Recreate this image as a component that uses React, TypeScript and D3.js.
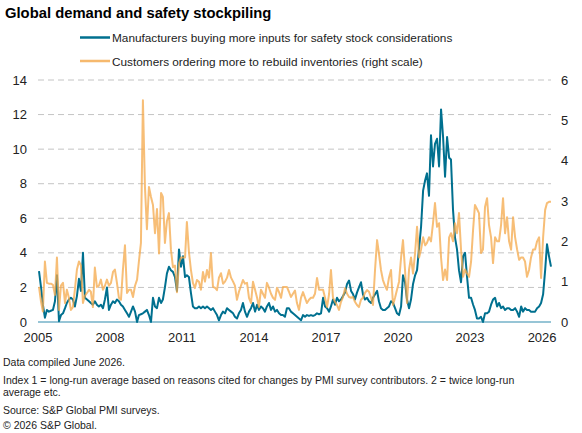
import * as React from 'react'
import { useEffect, useRef } from 'react'
import * as d3 from 'd3'

// monthly index values, Jan 2005 - May 2026
const safetyStock: number[] = [
  // 2005
  2.95, 2.0, 1.0, 0.25, 0.7, 0.6, 0.65, 0.7, 1.2, 2.7, 0.05, 0.4,
  // 2006
  0.5, 0.8, 1.1, 1.3, 1.4, 1.3, 0.9, 1.5, 2.5, 1.8, 4.0, 1.4,
  // 2007
  1.3, 1.2, 1.1, 1.0, 1.2, 1.0, 0.9, 1.0, 0.8, 1.3, 2.0, 0.7,
  // 2008
  1.0, 1.2, 1.1, 1.3, 1.2, 1.0, 0.9, 0.7, 0.5, 0.3, 0.6, 0.9,
  // 2009
  0.6, 0.0, 0.4, 0.45, 0.5, 0.6, 0.7, 0.4, 0.0, 1.4, 0.9, 0.8,
  // 2010
  1.4, 1.1, 1.3, 2.0, 2.8, 3.2, 3.0, 2.9, 2.6, 1.8, 4.2, 3.2,
  // 2011
  3.8, 2.6, 2.7, 2.6, 1.7, 0.9, 0.8, 0.8, 0.9, 0.8, 0.9, 0.8,
  // 2012
  0.9, 0.8, 0.7, 0.8, 0.6, 0.4, 0.1, 0.4, 0.6, 0.5, 0.8, 0.7,
  // 2013
  0.6, 0.5, 0.3, 0.2, 0.5, 0.7, 1.1, 0.6, 0.3, 0.6, 0.8, 1.1,
  // 2014
  0.6, 1.0, 0.7, 0.9, 0.8, 0.6, 0.9, 1.1, 0.7, 0.9, 0.6, 0.7,
  // 2015
  0.5, 0.4, 0.4, 0.3, 0.8, 0.8, 0.6, 0.5, 0.4, 0.3, 0.2, 0.1,
  // 2016
  0.4, 0.3, 0.4, 0.35, 0.4, 0.35, 0.4, 0.5, 0.45, 0.5, 1.4, 0.9,
  // 2017
  0.8, 0.6, 0.9, 1.3, 1.0, 1.4, 1.2, 1.3, 1.5, 1.7, 2.2, 2.4,
  // 2018
  1.8, 1.6, 1.3, 1.7, 2.0, 2.3, 1.6, 1.3, 1.4, 1.2, 1.1, 1.4,
  // 2019
  1.6, 1.8, 1.2, 0.8, 0.7, 0.7, 0.8, 0.9, 1.2, 1.1, 0.8, 0.5,
  // 2020
  0.4, 0.9, 2.7, 2.3, 1.3, 0.8, 1.3, 2.2, 2.7, 3.0, 4.3, 5.5,
  // 2021
  7.6, 8.2, 8.6, 7.3, 10.8, 9.0, 10.3, 10.6, 9.0, 12.3, 10.7, 8.4,
  // 2022
  10.7, 9.5, 9.4, 6.5, 4.9, 4.2, 3.0, 2.3, 3.8, 4.0, 2.6, 1.4,
  // 2023
  1.4, 1.0, 0.7, 0.2, 0.2, 0.3, 0.0, 0.5, 0.5, 0.6, 1.0, 1.3,
  // 2024
  1.4, 0.9, 1.1, 0.8, 0.9, 0.7, 0.8, 0.8, 0.7, 0.7, 0.8, 0.6,
  // 2025
  0.3, 0.9, 0.6, 0.8, 0.7, 0.7, 0.6, 0.6, 0.6, 0.8, 0.9, 1.1,
  // 2026
  1.6, 3.0, 4.5, 3.8, 3.2,
]

const rebuildInventories: number[] = [
  // 2005
  0.87, 0.5, 0.26, 1.5, 0.97, 0.95, 0.95, 0.92, 0.67, 1.6, 0.3, 0.9,
  // 2006
  0.97, 0.47, 0.8, 0.6, 0.3, 0.37, 0.8, 1.3, 1.5, 1.4, 0.47, 0.65,
  // 2007
  0.72, 0.8, 0.75, 0.37, 1.35, 0.87, 0.9, 1.05, 0.8, 0.9, 1.05, 0.9,
  // 2008
  0.97, 1.24, 1.3, 0.97, 0.6, 0.55, 1.3, 1.9, 0.72, 0.8, 0.8, 0.62,
  // 2009
  0.9, 1.05, 1.5, 1.96, 5.5, 3.35, 2.3, 3.35, 3.1, 2.9, 2.2, 2.8,
  // 2010
  1.7, 3.2, 3.1, 1.96, 2.5, 2.7, 1.8, 1.36, 1.4, 0.74, 1.46, 1.6,
  // 2011
  1.6, 1.6, 2.48, 1.74, 1.3, 0.97, 0.84, 1.04, 1.0, 0.8, 1.24, 1.0,
  // 2012
  1.29, 1.1, 1.71, 0.87, 0.85, 0.79, 1.1, 1.21, 0.95, 1.0, 1.1, 1.29,
  // 2013
  1.1, 1.0, 0.9, 0.55, 0.75, 0.9, 1.04, 0.95, 0.97, 0.6, 0.47, 1.0,
  // 2014
  0.8, 0.6, 0.37, 0.8, 0.7, 0.6, 0.97, 0.85, 0.7, 0.6, 0.55, 0.85,
  // 2015
  0.74, 0.6, 0.87, 0.87, 0.87, 0.75, 0.62, 0.7, 0.78, 0.47, 0.3, 0.6,
  // 2016
  0.74, 0.6, 0.47, 0.55, 0.6, 0.6, 0.7, 1.09, 0.8, 0.8, 0.8, 0.6,
  // 2017
  0.37, 0.7, 1.29, 0.6, 0.5, 0.42, 0.3, 0.5, 0.62, 0.84, 0.7, 0.62,
  // 2018
  0.6, 0.62, 0.5, 0.42, 0.37, 0.55, 0.6, 0.72, 0.79, 0.75, 0.6, 0.42,
  // 2019
  1.3, 2.03, 1.7, 1.29, 1.04, 0.9, 0.8, 1.1, 1.29, 0.42, 0.6, 0.8,
  // 2020
  1.0, 1.6, 2.03, 1.29, 0.47, 1.3, 1.6, 1.2, 1.71, 2.36, 1.6, 1.8,
  // 2021
  2.1, 1.9, 1.96, 2.1, 2.0, 2.45, 2.95, 2.36, 2.45, 1.6, 1.04, 1.3,
  // 2022
  1.04, 2.1, 2.2, 2.0, 2.45, 2.2, 2.7, 1.8, 1.12, 1.3, 1.2, 1.12,
  // 2023
  1.5, 2.3, 2.9, 2.8, 2.7, 1.71, 1.8, 2.85, 3.07, 2.4, 2.1, 1.46,
  // 2024
  2.1, 2.0, 2.0, 2.4, 3.07, 2.2, 2.6, 2.0, 1.79, 2.6, 2.1, 1.8,
  // 2025
  1.54, 1.6, 1.6, 1.5, 1.12, 1.29, 1.6, 1.8, 1.8, 2.0, 2.1, 1.09,
  // 2026
  2.1, 2.78, 2.95, 2.98, 2.98,
]

const xTickYears = [2005, 2008, 2011, 2014, 2017, 2020, 2023, 2026]
const leftTicks = [0, 2, 4, 6, 8, 10, 12, 14]
const rightTicks = [0, 1, 2, 3, 4, 5, 6]
const gridTicks = [2, 4, 6, 8, 10, 12, 14]

const legendLabels = [
  'Manufacturers buying more inputs for safety stock considerations',
  'Customers ordering more to rebuild inventories (right scale)',
]
const footnotes = [
  'Data compiled June 2026.',
  'Index 1 = long-run average based on reasons cited for changes by PMI survey contributors. 2 = twice long-run',
  'average etc.',
  'Source: S&P Global PMI surveys.',
  '© 2026 S&P Global.',
]

const WIDTH = 582
const HEIGHT = 433
const TEAL = '#00708f'
const ORANGE = '#f4a84a'
const FONT = 'Liberation Sans, Arial, sans-serif'

const App = () => {
  const ref = useRef<HTMLDivElement | null>(null)

  useEffect(() => {
    const svg = d3.select(ref.current)
      .append('svg')
        .attr('width', WIDTH)
        .attr('height', HEIGHT)
        .style('position', 'absolute')
        .style('left', 0)
        .style('top', 0)
        .style('font-family', FONT)

    const dates = safetyStock.map((_, i) => new Date(2005, i, 1))

    const x = d3.scaleTime()
      .domain([new Date(2005, 0, 1), new Date(2026, 4, 1)])
      .range([39, 551])
    const yLeft = d3.scaleLinear().domain([0, 14]).range([322, 80])
    const yRight = d3.scaleLinear().domain([0, 6]).range([322, 80])

    // title
    svg.append('text')
      .attr('x', 5).attr('y', 18)
      .attr('font-size', 14.8).attr('font-weight', 'bold')
      .attr('fill', '#000')
      .text('Global demand and safety stockpiling')

    // legend
    const legendColors = [TEAL, ORANGE]
    legendLabels.forEach((label, i) => {
      const ly = 37.5 + i * 23.5
      svg.append('line')
        .attr('x1', 80).attr('x2', 110)
        .attr('y1', ly).attr('y2', ly)
        .attr('stroke', legendColors[i])
        .attr('stroke-width', 2.5)
        .attr('stroke-opacity', i === 1 ? 0.8 : 1)
      svg.append('text')
        .attr('x', 112).attr('y', ly + 4.5)
        .attr('font-size', 11.8)
        .attr('fill', '#222')
        .text(label)
    })

    // gridlines
    svg.append('g')
      .selectAll('line')
      .data(gridTicks)
      .enter()
      .append('line')
      .attr('x1', 38).attr('x2', 551)
      .attr('y1', d => yLeft(d)).attr('y2', d => yLeft(d))
      .attr('stroke', '#c4c4c4')
      .attr('stroke-width', 1)
      .attr('stroke-dasharray', '6,4')

    // left axis labels
    svg.append('g')
      .selectAll('text')
      .data(leftTicks)
      .enter()
      .append('text')
      .attr('x', 27).attr('y', d => yLeft(d) + 4.5)
      .attr('text-anchor', 'end')
      .attr('font-size', 13)
      .attr('fill', '#222')
      .text(d => d)

    // right axis labels
    svg.append('g')
      .selectAll('text')
      .data(rightTicks)
      .enter()
      .append('text')
      .attr('x', 561).attr('y', d => yRight(d) + 4.5)
      .attr('font-size', 13)
      .attr('fill', '#222')
      .text(d => d)

    // x axis labels
    svg.append('g')
      .selectAll('text')
      .data(xTickYears)
      .enter()
      .append('text')
      .attr('x', d => x(new Date(d, 0, 1)) - 1)
      .attr('y', 342)
      .attr('text-anchor', 'middle')
      .attr('font-size', 13)
      .attr('fill', '#222')
      .text(d => d)

    // baseline
    svg.append('line')
      .attr('x1', 38).attr('x2', 551)
      .attr('y1', yLeft(0)).attr('y2', yLeft(0))
      .attr('stroke', '#74b2c8')
      .attr('stroke-width', 1.5)

    const lineLeft = d3.line<number>()
      .x((_, i) => x(dates[i]))
      .y(d => yLeft(d))
    const lineRight = d3.line<number>()
      .x((_, i) => x(dates[i]))
      .y(d => yRight(d))

    svg.append('path')
      .datum(safetyStock)
      .attr('d', lineLeft)
      .attr('fill', 'none')
      .attr('stroke', TEAL)
      .attr('stroke-width', 2)
      .attr('stroke-linejoin', 'round')

    svg.append('path')
      .datum(rebuildInventories)
      .attr('d', lineRight)
      .attr('fill', 'none')
      .attr('stroke', ORANGE)
      .attr('stroke-opacity', 0.75)
      .attr('stroke-width', 2)
      .attr('stroke-linejoin', 'round')

    // footnotes
    const footY = [366, 384, 396, 414, 429]
    footnotes.forEach((t, i) => {
      svg.append('text')
        .attr('x', 3).attr('y', footY[i])
        .attr('font-size', 10.5)
        .attr('fill', '#222')
        .text(t)
    })

    return () => {
      svg.remove()
    }
  }, [])

  return <div ref={ref} />
}

export default App
